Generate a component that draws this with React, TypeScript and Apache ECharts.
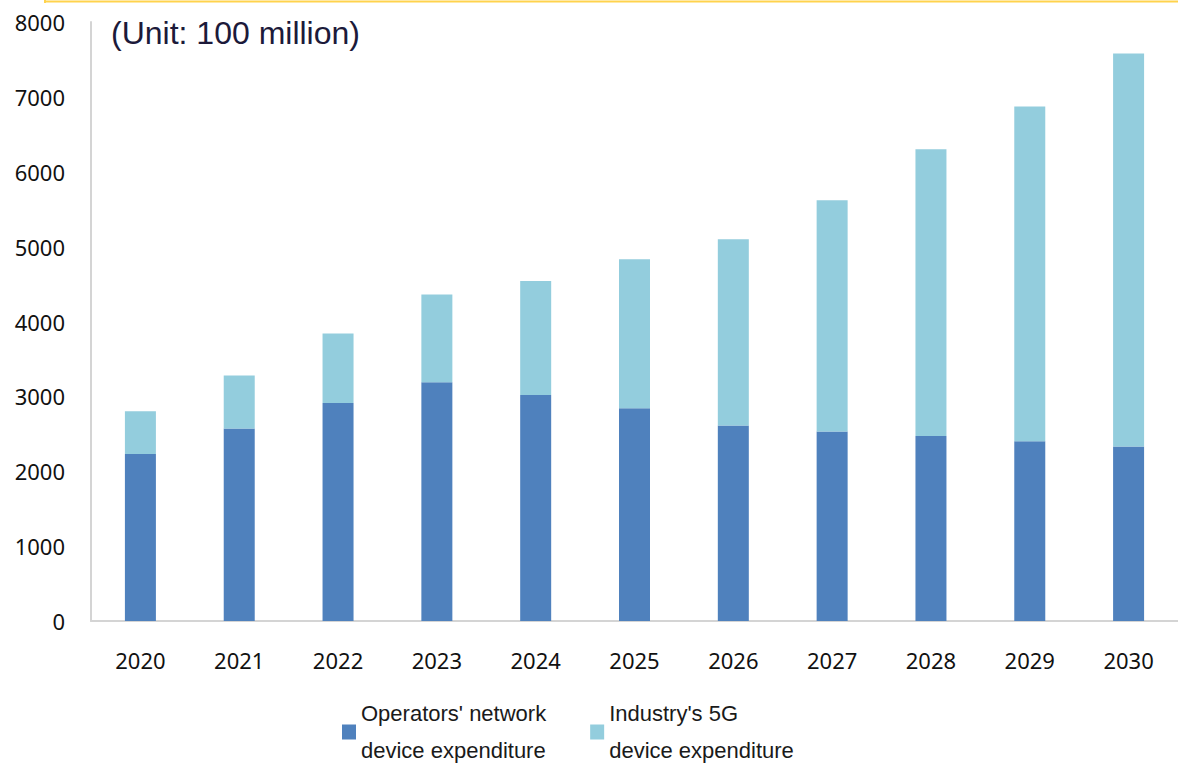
import React, { useEffect, useRef } from "react";
import * as echarts from "echarts";

const years = ["2020", "2021", "2022", "2023", "2024", "2025", "2026", "2027", "2028", "2029", "2030"];
const operatorsValues = [2230, 2570, 2910, 3190, 3020, 2840, 2610, 2530, 2470, 2400, 2330];
const industryValues = [570, 710, 930, 1170, 1520, 1990, 2490, 3090, 3830, 4470, 5250];
const seriesNames = ["Operators' network\ndevice expenditure", "Industry's 5G\ndevice expenditure"];
const unitText = "(Unit: 100 million)";

export default function App() {
  const ref = useRef<HTMLDivElement>(null);
  useEffect(() => {
    if (!ref.current) return;
    const chart = echarts.init(ref.current, null, { renderer: "svg" });
    const tickFont = { fontFamily: "Noto Sans", fontSize: 22, color: "#111111" };
    chart.setOption({
      animation: false,
      backgroundColor: "#ffffff",
      grid: { left: 91, top: 22, width: 1100, height: 599, containLabel: false },
      xAxis: {
        type: "category",
        data: years,
        boundaryGap: true,
        axisLine: { lineStyle: { color: "#D4D4D4", width: 2 } },
        axisTick: { show: false },
        axisLabel: { ...tickFont, margin: 28 },
      },
      yAxis: {
        type: "value",
        min: 0,
        max: 8000,
        interval: 1000,
        axisLine: { show: true, lineStyle: { color: "#D4D4D4", width: 2 } },
        axisTick: { show: false },
        splitLine: { show: false },
        axisLabel: { ...tickFont, margin: 26, formatter: (v: number) => String(v) },
      },
      legend: {
        left: 337,
        top: 690,
        itemWidth: 14,
        itemHeight: 15,
        itemGap: 44,
        icon: "rect",
        data: seriesNames,
        textStyle: {
          fontFamily: "Liberation Sans",
          fontSize: 22,
          lineHeight: 37,
          color: "#1a1a1a",
        },
      },
      series: [
        {
          name: seriesNames[0],
          type: "bar",
          stack: "total",
          barWidth: 31,
          data: operatorsValues,
          itemStyle: { color: "#4F81BD" },
        },
        {
          name: seriesNames[1],
          type: "bar",
          stack: "total",
          barWidth: 31,
          data: industryValues,
          itemStyle: { color: "#93CDDD" },
        },
      ],
      graphic: [
        {
          type: "line",
          shape: { x1: 45, y1: 1.5, x2: 1178, y2: 1.5 },
          style: { stroke: "#FFD34D", lineWidth: 2 },
        },
        {
          type: "line",
          shape: { x1: 45, y1: 0, x2: 45, y2: 3 },
          style: { stroke: "#FFD34D", lineWidth: 2 },
        },
        {
          type: "text",
          left: 111,
          top: 17,
          style: {
            text: unitText,
            fontFamily: "Liberation Sans",
            fontSize: 32,
            fill: "#1c1a3a",
          },
        },
      ],
    });
    return () => chart.dispose();
  }, []);
  return (
    <div
      ref={ref}
      style={{ position: "absolute", left: 0, top: 0, width: 1178, height: 768 }}
    />
  );
}
